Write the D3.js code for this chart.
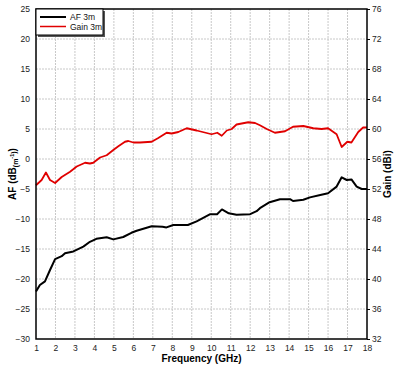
<!DOCTYPE html>
<html>
<head>
<meta charset="utf-8">
<script src="https://cdn.jsdelivr.net/npm/d3@7"></script>
<style>
  body { margin: 0; background: #fff; }
  svg { display: block; font-family: "Liberation Sans", Arial, sans-serif; }
</style>
</head>
<body>
<div id="chart"></div>
<script>
// frequency (GHz) / antenna factor (dB/m) for the black curve
const afFreq = [1.0, 1.2, 1.46, 1.72, 1.98, 2.32, 2.49, 2.92, 3.43, 3.77, 4.1, 4.63, 4.97, 5.48, 5.9, 6.17, 6.94, 7.5, 7.7, 8.05, 8.8, 9.25, 9.95, 10.3, 10.55, 10.9, 11.3, 12.0, 12.33, 12.5, 13.0, 13.53, 14.05, 14.2, 14.73, 15.07, 15.6, 16.0, 16.44, 16.7, 16.96, 17.2, 17.47, 17.73, 18.0];
const afValues = [-22.1, -21.0, -20.4, -18.5, -16.7, -16.2, -15.7, -15.4, -14.6, -13.8, -13.3, -13.05, -13.4, -13.0, -12.3, -11.95, -11.2, -11.3, -11.4, -11.0, -11.0, -10.4, -9.2, -9.2, -8.4, -9.05, -9.3, -9.2, -8.7, -8.2, -7.2, -6.7, -6.7, -7.0, -6.8, -6.4, -6.0, -5.7, -4.6, -3.05, -3.5, -3.4, -4.6, -5.0, -5.0];

// frequency (GHz) / gain (dBi) for the red curve, right axis
const gainFreq = [1.0, 1.29, 1.51, 1.72, 1.98, 2.32, 2.75, 3.09, 3.52, 3.77, 3.94, 4.29, 4.63, 4.97, 5.23, 5.57, 5.74, 6.0, 6.34, 6.94, 7.28, 7.71, 7.97, 8.31, 8.74, 9.25, 10.02, 10.31, 10.54, 10.8, 11.05, 11.3, 11.9, 12.25, 12.5, 12.85, 13.27, 13.79, 14.2, 14.73, 15.24, 15.67, 16.0, 16.44, 16.7, 16.99, 17.2, 17.55, 17.8, 18.0];
const gainValues = [52.5, 53.2, 54.2, 53.2, 52.8, 53.6, 54.3, 55.0, 55.5, 55.4, 55.5, 56.2, 56.5, 57.2, 57.7, 58.3, 58.4, 58.2, 58.2, 58.3, 58.8, 59.5, 59.4, 59.6, 60.1, 59.8, 59.3, 59.5, 59.1, 59.8, 60.0, 60.6, 60.9, 60.8, 60.5, 60.0, 59.5, 59.7, 60.3, 60.4, 60.1, 60.0, 60.1, 59.3, 57.6, 58.3, 58.2, 59.6, 60.2, 60.2];

const xTicks = d3.range(1, 19);
const yTicksLeft = [-30, -25, -20, -15, -10, -5, 0, 5, 10, 15, 20, 25];
const yTicksRight = [32, 36, 40, 44, 48, 52, 56, 60, 64, 68, 72, 76];
const seriesNames = ['AF 3m', 'Gain 3m'];
const seriesColors = ['#000000', '#e00000'];

const W = 402, H = 371;
const margin = { top: 9, right: 35, bottom: 32, left: 36 };
const width = W - margin.left - margin.right;
const height = H - margin.top - margin.bottom;

const x = d3.scaleLinear().domain([1, 18]).range([0, width]);
const yL = d3.scaleLinear().domain([-30, 25]).range([height, 0]);
const yR = d3.scaleLinear().domain([32, 76]).range([height, 0]);

const svg = d3.select('#chart').append('svg')
  .attr('width', W).attr('height', H);
const g = svg.append('g').attr('transform', `translate(${margin.left},${margin.top})`);

// grid
g.append('g').selectAll('line').data(xTicks.slice(1, -1)).join('line')
  .attr('x1', d => x(d)).attr('x2', d => x(d))
  .attr('y1', 0).attr('y2', height)
  .attr('stroke', '#c8c8c8').attr('stroke-width', 1).attr('stroke-dasharray', '2,1');
g.append('g').selectAll('line').data(yTicksLeft.slice(1, -1)).join('line')
  .attr('x1', 0).attr('x2', width)
  .attr('y1', d => yL(d)).attr('y2', d => yL(d))
  .attr('stroke', '#c8c8c8').attr('stroke-width', 1).attr('stroke-dasharray', '2,1');

// axes
const xAxis = g.append('g').attr('transform', `translate(0,${height})`)
  .call(d3.axisBottom(x).tickValues(xTicks).tickSize(0).tickPadding(6));
const leftAxis = g.append('g')
  .call(d3.axisLeft(yL).tickValues(yTicksLeft).tickSize(0).tickPadding(6));
const rightAxis = g.append('g').attr('transform', `translate(${width},0)`)
  .call(d3.axisRight(yR).tickValues(yTicksRight).tickSize(3).tickPadding(2));
[xAxis, leftAxis, rightAxis].forEach(a => {
  a.select('.domain').remove();
  a.selectAll('text').attr('font-size', 8.5).attr('fill', '#222')
    .attr('font-family', '"Liberation Sans", Arial, sans-serif');
});
rightAxis.selectAll('line').attr('stroke', '#000');

// series
const line = (yScale) => d3.line().x(d => x(d[0])).y(d => yScale(d[1]));
g.append('path')
  .datum(gainFreq.map((f, i) => [f, gainValues[i]]))
  .attr('d', line(yR))
  .attr('fill', 'none').attr('stroke', seriesColors[1]).attr('stroke-width', 1.8)
  .attr('stroke-linejoin', 'round');
g.append('path')
  .datum(afFreq.map((f, i) => [f, afValues[i]]))
  .attr('d', line(yL))
  .attr('fill', 'none').attr('stroke', seriesColors[0]).attr('stroke-width', 2)
  .attr('stroke-linejoin', 'round');

// frame
g.append('rect').attr('width', width).attr('height', height)
  .attr('fill', 'none').attr('stroke', '#000').attr('stroke-width', 1.5);

// axis titles
svg.append('text')
  .attr('x', margin.left + width / 2).attr('y', H - 9)
  .attr('text-anchor', 'middle').attr('font-size', 10).attr('font-weight', 'bold')
  .text('Frequency (GHz)');

const afTitle = svg.append('text')
  .attr('transform', `translate(16,${margin.top + height / 2}) rotate(-90)`)
  .attr('text-anchor', 'middle').attr('font-size', 10).attr('font-weight', 'bold');
afTitle.append('tspan').text('AF (dB');
afTitle.append('tspan').attr('font-size', 7).attr('dy', 2).text('(m');
afTitle.append('tspan').attr('font-size', 5.5).attr('dy', -4).text('-1');
afTitle.append('tspan').attr('font-size', 7).attr('dy', 2).text(')');
afTitle.append('tspan').attr('dy', -0).text(')');

svg.append('text')
  .attr('transform', `translate(391,${margin.top + 165}) rotate(-90)`)
  .attr('text-anchor', 'middle').attr('font-size', 10).attr('font-weight', 'bold')
  .text('Gain (dBi)');

// legend
const legend = g.append('g').attr('transform', 'translate(0,0)');
legend.append('rect').attr('x', 2).attr('y', 2).attr('width', 67).attr('height', 26)
  .attr('fill', '#555');
legend.append('rect').attr('x', 0).attr('y', 0).attr('width', 67).attr('height', 26)
  .attr('fill', '#fff').attr('stroke', '#000').attr('stroke-width', 1);
seriesNames.forEach((name, i) => {
  const yy = 8 + i * 9.5;
  legend.append('line').attr('x1', 4).attr('x2', 30).attr('y1', yy).attr('y2', yy)
    .attr('stroke', seriesColors[i]).attr('stroke-width', i === 0 ? 2 : 1.5);
  legend.append('text').attr('x', 34).attr('y', yy + 3).attr('font-size', 8.5)
    .attr('fill', '#111').text(name);
});
</script>
</body>
</html>
